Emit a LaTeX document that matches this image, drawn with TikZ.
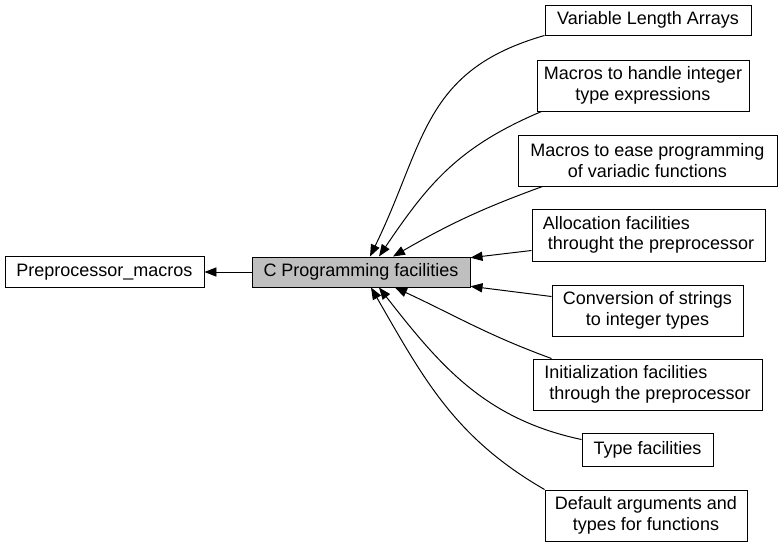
\documentclass[tikz,border=0pt]{standalone}
\usepackage{fontspec}
\setmainfont{Liberation Sans}
\usepackage{tikz}
\usetikzlibrary{arrows.meta}
\definecolor{curgray}{HTML}{BFBFBF}
\tikzset{
  grp/.style ={draw=black, rectangle, inner xsep=0pt, inner ysep=0pt,
               minimum height=0.775cm, fill=white, line width=0.7pt,
               font=\fontsize{12.8}{14.6}\selectfont, align=center},
  grp2/.style={grp, minimum height=1.275cm},
  cur/.style ={grp, fill=curgray},
  dep/.style ={-{Triangle[length=0.3cm,width=0.23cm]}, line width=0.7pt},
}

\begin{document}
\begin{tikzpicture}
  \useasboundingbox (0,0) rectangle (19.575,-13.65);
  % left: the module and its parent
  \node[grp, minimum width=4.975cm] (pre) at (2.6125,-6.8) {Preprocessor\_macros};
  \node[cur, minimum width=5.45cm, minimum height=0.75cm] (cpf) at (9.025,-6.8)
    {C Programming facilities};
  % right: the sub-groups
  \node[grp, minimum width=5.15cm, minimum height=0.75cm] (vla) at (16.2,-0.5)
    {Variable Length Arrays};
  \node[grp2, minimum width=5.3cm] (mhi) at (16.075,-2.1375)
    {Macros to handle integer\\ type expressions};
  \node[grp2, minimum width=6.475cm] (mev) at (16.1875,-4.0125)
    {Macros to ease programming\\of variadic functions};
  \node[grp2, minimum width=5.825cm, minimum height=1.3cm, align=left] (alc) at (16.2125,-5.875)
    {Allocation facilities\\\ throught the preprocessor};
  \node[grp2, minimum width=4.775cm] (cnv) at (16.1875,-7.7625)
    {Conversion of strings\\ to integer types};
  \node[grp2, minimum width=5.725cm, align=left] (ini) at (16.1875,-9.6125)
    {Initialization facilities\\\ through the preprocessor};
  \node[grp, minimum width=3.275cm, minimum height=0.825cm] (typ) at (16.1875,-11.2375)
    {Type facilities};
  \node[grp2, minimum width=5.05cm] (dfa) at (16.15,-12.8875)
    {Default arguments and\\types for functions};
  % connectors
  \draw[dep] (cpf) -- (pre);
  \draw[dep] (vla.south west) to[out=196, in=64, looseness=1.15]
    ([xshift=0.225cm]cpf.north);
  \draw[dep] ([xshift=0.125cm]mhi.south west) to[out=203, in=56, looseness=1.05]
    ([xshift=0.45cm]cpf.north);
  \draw[dep] ([xshift=0.625cm]mev.south west) to[out=200, in=30]
    ([xshift=0.8cm]cpf.north);
  \draw[dep] ([yshift=0.275cm]alc.south west) -- ([yshift=-0.03cm]cpf.north east);
  \draw[dep] ([yshift=-0.3cm]cnv.north west) -- ([yshift=0.03cm]cpf.south east);
  \draw[dep] ([xshift=0.475cm]ini.north west) to[out=160, in=-25]
    ([xshift=0.85cm]cpf.south);
  \draw[dep] ([yshift=-0.175cm]typ.north west) to[out=168, in=-52]
    ([xshift=0.45cm]cpf.south);
  \draw[dep] (dfa.north west) to[out=150, in=-60]
    ([xshift=0.25cm]cpf.south);
\end{tikzpicture}
\end{document}
